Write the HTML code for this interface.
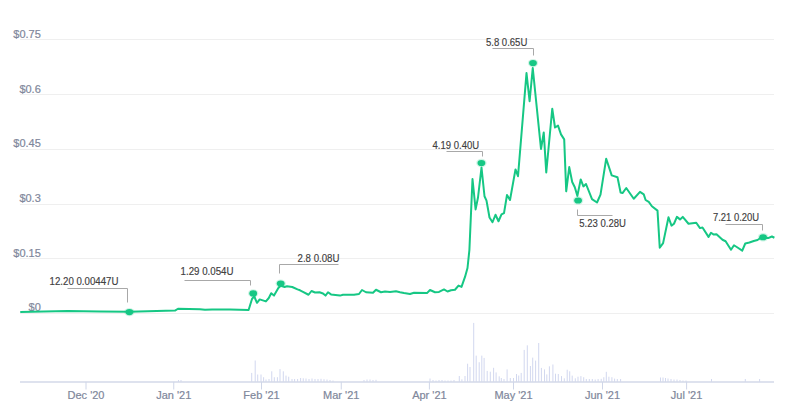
<!DOCTYPE html>
<html><head><meta charset="utf-8"><title>Price chart</title>
<style>
html,body{margin:0;padding:0;background:#fff;}
body{width:800px;height:417px;overflow:hidden;}
svg{display:block;font-family:"Liberation Sans",sans-serif;}
</style></head><body>
<svg width="800" height="417" viewBox="0 0 800 417">
<rect width="800" height="417" fill="#fff"/>
<g stroke="#efefef" stroke-width="1" fill="none"><line x1="20" y1="39.5" x2="774" y2="39.5"/><line x1="20" y1="94.5" x2="774" y2="94.5"/><line x1="20" y1="149.5" x2="774" y2="149.5"/><line x1="20" y1="204.5" x2="774" y2="204.5"/><line x1="20" y1="258.5" x2="774" y2="258.5"/><line x1="20" y1="313.5" x2="774" y2="313.5"/></g>
<g fill="#d2d8ef"><rect x="178.00" y="380.00" width="1" height="1.90"/><rect x="180.50" y="380.00" width="1" height="1.90"/><rect x="251.20" y="372.90" width="1" height="9.00"/><rect x="254.70" y="360.50" width="1" height="21.40"/><rect x="257.20" y="374.50" width="1" height="7.40"/><rect x="260.50" y="374.50" width="1" height="7.40"/><rect x="263.10" y="377.20" width="1" height="4.70"/><rect x="265.50" y="379.50" width="1" height="2.40"/><rect x="268.50" y="379.00" width="1" height="2.90"/><rect x="271.25" y="371.30" width="1" height="10.60"/><rect x="273.80" y="377.20" width="1" height="4.70"/><rect x="276.90" y="377.20" width="1" height="4.70"/><rect x="279.50" y="369.10" width="1" height="12.80"/><rect x="282.80" y="371.30" width="1" height="10.60"/><rect x="285.50" y="375.60" width="1" height="6.30"/><rect x="288.20" y="376.70" width="1" height="5.20"/><rect x="291.50" y="379.00" width="1" height="2.90"/><rect x="294.10" y="379.00" width="1" height="2.90"/><rect x="297.10" y="379.00" width="1" height="2.90"/><rect x="300.10" y="378.00" width="1" height="3.90"/><rect x="302.75" y="378.30" width="1" height="3.60"/><rect x="305.50" y="378.50" width="1" height="3.40"/><rect x="308.50" y="379.00" width="1" height="2.90"/><rect x="311.50" y="378.50" width="1" height="3.40"/><rect x="314.50" y="379.00" width="1" height="2.90"/><rect x="317.50" y="379.00" width="1" height="2.90"/><rect x="320.50" y="378.80" width="1" height="3.10"/><rect x="323.50" y="379.20" width="1" height="2.70"/><rect x="326.50" y="379.50" width="1" height="2.40"/><rect x="329.50" y="380.00" width="1" height="1.90"/><rect x="332.50" y="380.50" width="1" height="1.40"/><rect x="363.50" y="380.00" width="1" height="1.90"/><rect x="366.50" y="379.50" width="1" height="2.40"/><rect x="369.50" y="379.50" width="1" height="2.40"/><rect x="372.50" y="380.00" width="1" height="1.90"/><rect x="375.50" y="379.80" width="1" height="2.10"/><rect x="429.50" y="378.50" width="1" height="3.40"/><rect x="432.50" y="380.00" width="1" height="1.90"/><rect x="435.50" y="380.50" width="1" height="1.40"/><rect x="438.50" y="380.00" width="1" height="1.90"/><rect x="441.50" y="380.00" width="1" height="1.90"/><rect x="444.50" y="380.50" width="1" height="1.40"/><rect x="447.50" y="380.50" width="1" height="1.40"/><rect x="450.50" y="380.50" width="1" height="1.40"/><rect x="453.50" y="380.00" width="1" height="1.90"/><rect x="458.80" y="376.00" width="1" height="5.90"/><rect x="461.40" y="379.30" width="1" height="2.60"/><rect x="464.50" y="376.00" width="1" height="5.90"/><rect x="467.10" y="363.70" width="1" height="18.20"/><rect x="469.50" y="367.00" width="1" height="14.90"/><rect x="473.20" y="322.90" width="1" height="59.00"/><rect x="475.70" y="355.60" width="1" height="26.30"/><rect x="478.70" y="362.20" width="1" height="19.70"/><rect x="481.30" y="355.60" width="1" height="26.30"/><rect x="483.60" y="357.90" width="1" height="24.00"/><rect x="486.70" y="370.90" width="1" height="11.00"/><rect x="489.80" y="371.70" width="1" height="10.20"/><rect x="493.10" y="367.80" width="1" height="14.10"/><rect x="495.60" y="372.40" width="1" height="9.50"/><rect x="498.70" y="376.30" width="1" height="5.60"/><rect x="500.80" y="378.00" width="1" height="3.90"/><rect x="503.50" y="379.00" width="1" height="2.90"/><rect x="506.60" y="369.40" width="1" height="12.50"/><rect x="509.80" y="378.00" width="1" height="3.90"/><rect x="513.00" y="378.00" width="1" height="3.90"/><rect x="516.00" y="374.00" width="1" height="7.90"/><rect x="518.20" y="375.50" width="1" height="6.40"/><rect x="520.70" y="372.90" width="1" height="9.00"/><rect x="523.70" y="349.90" width="1" height="32.00"/><rect x="526.80" y="345.30" width="1" height="36.60"/><rect x="529.90" y="366.00" width="1" height="15.90"/><rect x="532.20" y="357.60" width="1" height="24.30"/><rect x="535.10" y="360.60" width="1" height="21.30"/><rect x="538.20" y="343.00" width="1" height="38.90"/><rect x="540.90" y="367.90" width="1" height="14.00"/><rect x="544.00" y="369.40" width="1" height="12.50"/><rect x="546.30" y="374.40" width="1" height="7.50"/><rect x="548.90" y="366.30" width="1" height="15.60"/><rect x="552.40" y="364.50" width="1" height="17.40"/><rect x="555.00" y="373.70" width="1" height="8.20"/><rect x="557.80" y="374.00" width="1" height="7.90"/><rect x="561.00" y="376.10" width="1" height="5.80"/><rect x="563.80" y="378.30" width="1" height="3.60"/><rect x="566.70" y="369.70" width="1" height="12.20"/><rect x="569.20" y="371.30" width="1" height="10.60"/><rect x="571.70" y="375.60" width="1" height="6.30"/><rect x="574.80" y="378.30" width="1" height="3.60"/><rect x="577.50" y="376.70" width="1" height="5.20"/><rect x="580.40" y="376.10" width="1" height="5.80"/><rect x="583.20" y="377.20" width="1" height="4.70"/><rect x="585.80" y="379.00" width="1" height="2.90"/><rect x="588.80" y="379.00" width="1" height="2.90"/><rect x="591.80" y="379.00" width="1" height="2.90"/><rect x="594.70" y="379.50" width="1" height="2.40"/><rect x="597.60" y="379.00" width="1" height="2.90"/><rect x="600.70" y="378.80" width="1" height="3.10"/><rect x="603.30" y="377.20" width="1" height="4.70"/><rect x="605.80" y="371.80" width="1" height="10.10"/><rect x="608.40" y="376.70" width="1" height="5.20"/><rect x="611.40" y="377.20" width="1" height="4.70"/><rect x="614.10" y="378.60" width="1" height="3.30"/><rect x="616.80" y="379.00" width="1" height="2.90"/><rect x="620.10" y="379.00" width="1" height="2.90"/><rect x="660.00" y="377.50" width="1" height="4.40"/><rect x="662.50" y="377.50" width="1" height="4.40"/><rect x="665.00" y="378.00" width="1" height="3.90"/><rect x="667.50" y="378.50" width="1" height="3.40"/><rect x="670.50" y="379.00" width="1" height="2.90"/><rect x="673.50" y="379.50" width="1" height="2.40"/><rect x="676.50" y="379.50" width="1" height="2.40"/><rect x="679.50" y="380.00" width="1" height="1.90"/><rect x="682.50" y="380.50" width="1" height="1.40"/><rect x="685.50" y="380.50" width="1" height="1.40"/><rect x="711.00" y="379.00" width="1" height="2.90"/><rect x="744.80" y="379.00" width="1" height="2.90"/><rect x="759.10" y="379.00" width="1" height="2.90"/></g>
<line x1="20" y1="381.9" x2="774" y2="381.9" stroke="#d3d9e8" stroke-width="1.5"/>
<g stroke="#cfd6e8" stroke-width="1"><line x1="86" y1="381.9" x2="86" y2="389.5"/><line x1="173.75" y1="381.9" x2="173.75" y2="389.5"/><line x1="261.5" y1="381.9" x2="261.5" y2="389.5"/><line x1="341.25" y1="381.9" x2="341.25" y2="389.5"/><line x1="429.4" y1="381.9" x2="429.4" y2="389.5"/><line x1="513.5" y1="381.9" x2="513.5" y2="389.5"/><line x1="602.5" y1="381.9" x2="602.5" y2="389.5"/><line x1="686.6" y1="381.9" x2="686.6" y2="389.5"/></g>
<g fill="#80879b" stroke="#80879b" stroke-width="0.2" font-size="11" text-anchor="end"><text x="40.8" y="38.00">$0.75</text><text x="40.8" y="92.60">$0.6</text><text x="40.8" y="146.50">$0.45</text><text x="40.8" y="201.80">$0.3</text><text x="40.8" y="256.60">$0.15</text><text x="40.8" y="310.80">$0</text></g>
<g fill="#80879b" stroke="#80879b" stroke-width="0.2" font-size="11" text-anchor="middle"><text x="86" y="399.2">Dec &#39;20</text><text x="173.75" y="399.2">Jan &#39;21</text><text x="261.5" y="399.2">Feb &#39;21</text><text x="341.25" y="399.2">Mar &#39;21</text><text x="429.4" y="399.2">Apr &#39;21</text><text x="513.5" y="399.2">May &#39;21</text><text x="602.5" y="399.2">Jun &#39;21</text><text x="686.6" y="399.2">Jul &#39;21</text></g>
<path d="M20.25,311.90 L67.50,311.10 L100.00,311.60 L129.40,311.80 L175.00,310.60 L178.00,308.75 L200.00,309.20 L205.00,309.80 L212.00,309.40 L230.00,309.50 L248.60,310.00 L252.00,299.00 L254.40,296.20 L255.30,299.00 L257.00,302.80 L259.70,299.40 L265.90,301.40 L268.80,298.00 L271.20,293.20 L274.00,295.60 L278.35,288.00 L280.70,285.50 L284.60,287.00 L287.00,286.30 L292.25,287.00 L297.50,289.40 L300.00,290.30 L303.00,291.90 L308.50,294.75 L311.50,291.00 L315.00,292.50 L319.50,292.25 L323.00,293.50 L325.50,295.60 L328.00,292.25 L331.00,294.40 L340.00,295.60 L343.00,294.75 L354.00,294.75 L359.00,294.00 L362.00,290.00 L366.00,292.25 L373.00,292.75 L376.00,289.75 L381.00,292.25 L385.00,291.50 L390.00,291.90 L396.00,291.25 L400.00,292.25 L404.00,293.10 L410.00,294.00 L414.00,292.75 L427.00,293.10 L430.00,290.00 L435.00,292.25 L439.00,291.90 L444.00,289.40 L447.50,291.50 L451.00,290.25 L455.00,289.75 L458.50,285.60 L461.50,286.90 L465.00,276.90 L467.50,268.00 L469.40,250.00 L472.50,179.00 L475.60,209.40 L478.00,197.50 L481.50,167.50 L484.50,196.25 L486.50,200.60 L489.50,217.50 L492.50,222.25 L495.50,214.75 L498.50,221.25 L501.50,214.40 L504.00,213.10 L507.00,195.00 L510.00,200.00 L515.50,169.40 L518.00,176.25 L526.50,73.10 L529.60,101.25 L532.75,68.10 L541.00,149.00 L543.75,132.50 L546.25,172.50 L552.25,108.75 L555.00,127.50 L558.00,125.60 L561.00,134.40 L564.20,139.40 L566.20,191.30 L569.25,167.10 L572.20,182.00 L574.80,187.30 L577.40,195.90 L580.70,179.40 L583.40,186.40 L586.00,184.00 L592.00,199.20 L597.00,202.50 L600.50,194.60 L606.20,158.70 L611.70,175.40 L617.50,177.25 L620.60,192.50 L622.50,193.10 L626.25,188.00 L633.75,198.75 L640.00,191.90 L643.75,194.40 L645.60,200.00 L648.75,201.90 L651.90,206.25 L657.50,210.60 L659.75,247.75 L663.10,243.10 L668.50,217.25 L671.50,225.60 L674.00,223.75 L676.90,216.90 L680.00,219.40 L682.75,216.90 L688.50,223.75 L696.25,222.75 L700.00,228.10 L702.50,227.50 L708.50,236.90 L711.00,232.75 L713.75,234.60 L716.50,234.20 L722.50,239.75 L725.60,241.25 L731.00,249.75 L734.00,245.25 L737.50,247.50 L742.25,250.60 L745.25,243.50 L749.40,242.50 L753.75,241.00 L757.50,240.00 L759.75,238.50 L763.10,237.80 L768.10,238.10 L771.90,236.50 L774.40,237.75" fill="none" stroke="#16c784" stroke-width="2" stroke-linejoin="round" stroke-linecap="butt"/>
<ellipse cx="129.4" cy="312.1" rx="5.2" ry="4.2" fill="#16c784" fill-opacity="0.2"/><ellipse cx="129.4" cy="312.1" rx="3.9" ry="3.1" fill="#16c784"/><ellipse cx="253.2" cy="293.4" rx="5.2" ry="4.2" fill="#16c784" fill-opacity="0.2"/><ellipse cx="253.2" cy="293.4" rx="3.9" ry="3.1" fill="#16c784"/><ellipse cx="280.7" cy="283.6" rx="5.2" ry="4.2" fill="#16c784" fill-opacity="0.2"/><ellipse cx="280.7" cy="283.6" rx="3.9" ry="3.1" fill="#16c784"/><ellipse cx="481.4" cy="163.0" rx="5.2" ry="4.2" fill="#16c784" fill-opacity="0.2"/><ellipse cx="481.4" cy="163.0" rx="3.9" ry="3.1" fill="#16c784"/><ellipse cx="533.0" cy="63.1" rx="5.2" ry="4.2" fill="#16c784" fill-opacity="0.2"/><ellipse cx="533.0" cy="63.1" rx="3.9" ry="3.1" fill="#16c784"/><ellipse cx="578.1" cy="200.5" rx="5.2" ry="4.2" fill="#16c784" fill-opacity="0.2"/><ellipse cx="578.1" cy="200.5" rx="3.9" ry="3.1" fill="#16c784"/><ellipse cx="763.1" cy="237.25" rx="5.2" ry="4.2" fill="#16c784" fill-opacity="0.2"/><ellipse cx="763.1" cy="237.25" rx="3.9" ry="3.1" fill="#16c784"/>
<g stroke="#a8a8a8" stroke-width="1" fill="none"><polyline points="67.5,288.5 127.5,288.5 127.5,302.5"/><polyline points="184.5,280.5 250.5,280.5 250.5,285.5"/><polyline points="338.5,264.5 279.5,264.5 279.5,273.5"/><polyline points="446.5,151.5 482.5,151.5 482.5,156.5"/><polyline points="492.5,48.5 533.5,48.5 533.5,55.5"/><polyline points="577.5,209.5 577.5,215.5 612.5,215.5"/><polyline points="725.5,224.5 762.5,224.5 762.5,230.5"/></g><g fill="#404040" stroke="#404040" stroke-width="0.15" font-size="10"><text transform="translate(49.56,284.80) scale(0.9693,1)">12.20 0.00447U</text><text transform="translate(180.56,274.55) scale(0.9725,1)">1.29 0.054U</text><text transform="translate(297.56,262.05) scale(0.9658,1)">2.8 0.08U</text><text transform="translate(432.58,149.30) scale(0.9525,1)">4.19 0.40U</text><text transform="translate(485.92,46.40) scale(0.9551,1)">5.8 0.65U</text><text transform="translate(579.32,226.80) scale(0.9549,1)">5.23 0.28U</text><text transform="translate(712.92,221.40) scale(0.9456,1)">7.21 0.20U</text></g>
</svg>
</body></html>
